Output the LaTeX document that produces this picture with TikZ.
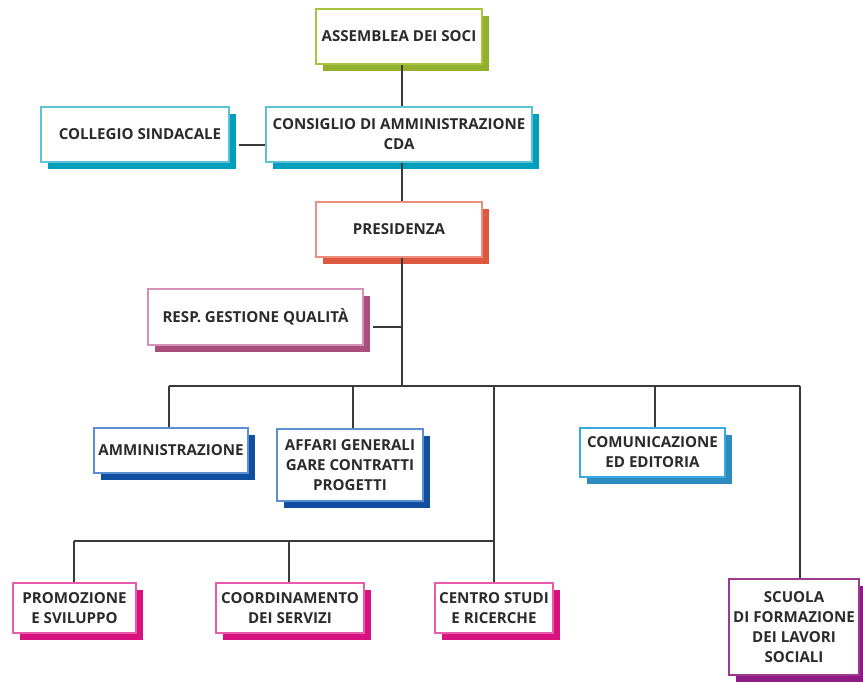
\documentclass[tikz,border=0pt]{standalone}
\usepackage{fontspec}
\setmainfont{Open Sans}
\usetikzlibrary{shadows}
\definecolor{txt}{HTML}{2B2B2B}
\definecolor{lnk}{HTML}{3A3A3A}
\definecolor{grB}{HTML}{A8C43E}\definecolor{grS}{HTML}{93B02D}
\definecolor{tlB}{HTML}{5CC3D4}\definecolor{tlS}{HTML}{009FBD}
\definecolor{orB}{HTML}{EE8E7E}\definecolor{orS}{HTML}{DD5A40}
\definecolor{mvB}{HTML}{D592B8}\definecolor{mvS}{HTML}{A84F7D}
\definecolor{blB}{HTML}{5C8ED2}\definecolor{blS}{HTML}{104FA0}
\definecolor{cyB}{HTML}{3AAAE0}\definecolor{cyS}{HTML}{2F8BBD}
\definecolor{pkB}{HTML}{E85AAA}\definecolor{pkS}{HTML}{D8137F}
\definecolor{puB}{HTML}{9D3A90}\definecolor{puS}{HTML}{8E1B83}
\tikzset{
  orgbox/.style n args={2}{draw=#1, fill=white, line width=1.1pt, inner sep=0pt,
    align=center, text=txt, font=\fontsize{15.1}{20}\selectfont\bfseries,
    drop shadow={shadow xshift=7pt, shadow yshift=-7pt, fill=#2, opacity=1}},
  link/.style={draw=lnk, line width=1.2pt},
}
\begin{document}
\begin{tikzpicture}[x=1pt,y=1pt]
\useasboundingbox (0,0) rectangle (863,-681);
\coordinate (trunk) at (402,0);
% nodes
\node[orgbox={grB}{grS}, minimum width=166pt, minimum height=55pt] (assem) at (399,-36.5) {ASSEMBLEA DEI SOCI};
\node[orgbox={tlB}{tlS}, minimum width=266pt, minimum height=55pt] (cda) at (399,-134.5) {CONSIGLIO DI AMMINISTRAZIONE\\CDA};
\node[orgbox={tlB}{tlS}, minimum width=188pt, minimum height=55pt] (coll) at (135,-134.5) {\hspace*{10pt}COLLEGIO SINDACALE};
\node[orgbox={orB}{orS}, minimum width=166pt, minimum height=55pt] (pres) at (399,-229.5) {PRESIDENZA};
\node[orgbox={mvB}{mvS}, minimum width=215pt, minimum height=56pt] (qual) at (255.5,-317) {RESP. GESTIONE QUALIT\`A};
\node[orgbox={blB}{blS}, minimum width=154pt, minimum height=45pt] (amm) at (171,-450.5) {AMMINISTRAZIONE};
\node[orgbox={blB}{blS}, minimum width=146pt, minimum height=72pt] (aff) at (350,-465) {AFFARI GENERALI\\GARE CONTRATTI\\PROGETTI};
\node[orgbox={cyB}{cyS}, minimum width=145pt, minimum height=49pt] (com) at (652.5,-452.5) {COMUNICAZIONE\\ED EDITORIA};
\node[orgbox={pkB}{pkS}, minimum width=123pt, minimum height=50pt] (prom) at (74.5,-608) {PROMOZIONE\\E SVILUPPO};
\node[orgbox={pkB}{pkS}, minimum width=148pt, minimum height=50pt] (coord) at (290,-608) {COORDINAMENTO\\DEI SERVIZI};
\node[orgbox={pkB}{pkS}, minimum width=118pt, minimum height=50pt] (centro) at (494,-608) {CENTRO STUDI\\E RICERCHE};
\node[orgbox={puB}{puS}, minimum width=130pt, minimum height=96pt] (scuola) at (794,-627) {SCUOLA\\DI FORMAZIONE\\DEI LAVORI\\SOCIALI};
% helper coordinates
\coordinate (cl) at (0,-145);
\coordinate (ql) at (0,-327);
\coordinate (bus) at (0,-386);
\coordinate (lbus) at (0,-541);
\coordinate (vamm) at (169,0);
\coordinate (vaff) at (353,0);
\coordinate (vcom) at (655,0);
\coordinate (vcen) at (494,0);
\coordinate (vscu) at (800,0);
\coordinate (vpro) at (74,0);
\coordinate (vcoo) at (289,0);
% connectors
\path[link] (assem.south -| trunk) -- (cda.north -| trunk);
\path[link] (cda.south -| trunk) -- (pres.north -| trunk);
\path[link] (coll.east |- cl) ++(9,0) -- (cda.west |- cl);
\path[link] (pres.south -| trunk) -- (trunk |- bus);
\path[link] (qual.east |- ql) ++(9,0) -- (trunk |- ql);
\path[link] (vamm |- bus) -- (vscu |- bus);
\path[link] (vamm |- bus) -- (amm.north -| vamm);
\path[link] (vaff |- bus) -- (aff.north -| vaff);
\path[link] (vcom |- bus) -- (com.north -| vcom);
\path[link] (vscu |- bus) -- (scuola.north -| vscu);
\path[link] (vcen |- bus) -- (centro.north);
\path[link] (vpro |- lbus) -- (vcen |- lbus);
\path[link] (vpro |- lbus) -- (prom.north -| vpro);
\path[link] (vcoo |- lbus) -- (coord.north -| vcoo);
\end{tikzpicture}
\end{document}
